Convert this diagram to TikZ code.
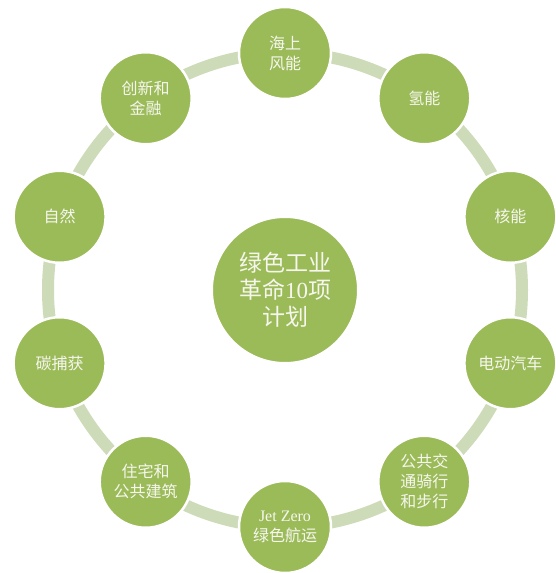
\documentclass[tikz,border=0pt]{standalone}
\usepackage{fontspec}
\setmainfont{Liberation Serif}
\newfontfamily\cjk{Noto Sans CJK SC}
\usepackage{tikz}
\usetikzlibrary{positioning}
\usepackage{xcolor}
\definecolor{planolive}{RGB}{155,187,89}
\definecolor{planring}{RGB}{205,219,184}
\definecolor{plantext}{RGB}{246,246,238}

\begin{document}
\begin{tikzpicture}[
    x=1pt, y=1pt,
    hub/.style={circle, fill=planolive, draw=white, line width=2pt, minimum size=146pt, inner sep=0pt, align=center, text=plantext, font=\fontsize{23}{27}\selectfont\cjk},
    item/.style={circle, fill=planolive, draw=white, line width=2.5pt, minimum size=92pt, inner sep=0pt, align=center, text=plantext, font=\fontsize{16}{20}\selectfont\cjk},
    ring/.style={planring, line width=12pt},
]
    \useasboundingbox (0,0) rectangle (555,-573);

    \node[hub] (plan) at (285,-290) {绿色工业\\革命{\rmfamily 10}项\\计划};

    % ring behind the ten items
    \draw[ring] (plan.center) circle[radius=237];

    \node[item] (wind) at ([shift={(90:237)}]plan.center) {海上\\风能};
    \node[item] (hydro) at ([shift={(54:237)}]plan.center) {氢能};
    \node[item] (nuclear) at ([shift={(18:237)}]plan.center) {核能};
    \node[item] (ev) at ([shift={(-18:237)}]plan.center) {电动汽车};
    \node[item] (transit) at ([shift={(-54:237)}]plan.center) {公共交\\通骑行\\和步行};
    \node[item] (jetzero) at ([shift={(-90:237)}]plan.center) {{\rmfamily Jet Zero}\\绿色航运};
    \node[item] (homes) at ([shift={(-126:237)}]plan.center) {住宅和\\公共建筑};
    \node[item] (carbon) at ([shift={(-162:237)}]plan.center) {碳捕获};
    \node[item] (nature) at ([shift={(162:237)}]plan.center) {自然};
    \node[item] (finance) at ([shift={(126:237)}]plan.center) {创新和\\金融};
\end{tikzpicture}
\end{document}
